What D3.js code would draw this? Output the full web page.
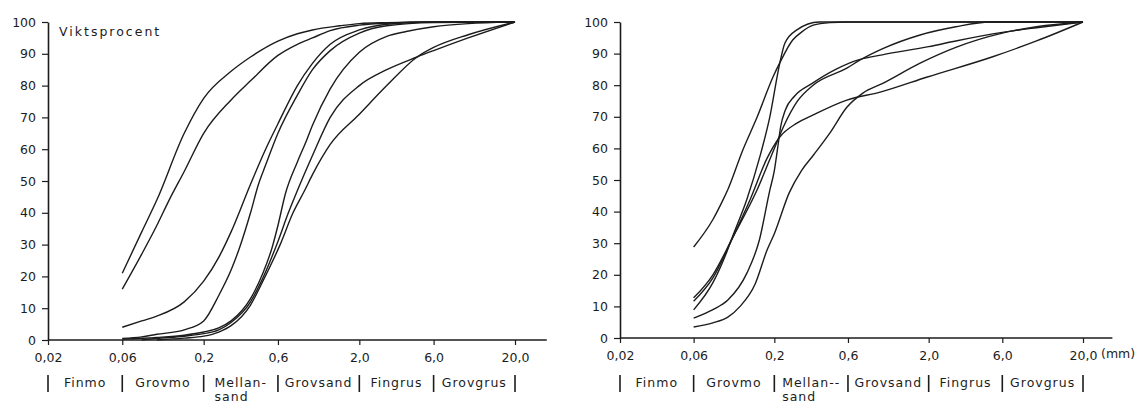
<!DOCTYPE html>
<html><head><meta charset="utf-8">
<script src="https://cdn.jsdelivr.net/npm/d3@7"></script>
<style>
body{margin:0;background:#fff;}
svg text{font-family:"DejaVu Sans",sans-serif;fill:#1c1c1c;}
</style></head><body>
<svg id="chart" width="1140" height="404"></svg>
<script>
// ---- axis / label data ----
const xTickValues = [0.02, 0.06, 0.2, 0.6, 2, 6, 20];
const xTickLabels = ["0,02", "0,06", "0,2", "0,6", "2,0", "6,0", "20,0"];
const yTickValues = [0, 10, 20, 30, 40, 50, 60, 70, 80, 90, 100];
const fractionBounds = [0.02, 0.06, 0.2, 0.6, 2, 6, 20];
const fractionNamesLeft = ["Finmo", "Grovmo", "Mellan-", "Grovsand", "Fingrus", "Grovgrus"];
const fractionNamesRight = ["Finmo", "Grovmo", "Mellan--", "Grovsand", "Fingrus", "Grovgrus"];
const sandSuffix = "sand";
const yTitle = "Viktsprocent";
const unitLabel = "(mm)";

// ---- left panel curves: [grain size mm, weight %] ----
const leftA = [[0.06,21],[0.08,34],[0.1,44],[0.15,65],[0.2,76],[0.3,84.5],[0.4,89],[0.6,94],[0.8,96.3],[1,97.5],[1.5,98.8],[2,99.5],[3,99.8],[6,100],[20,100]];
const leftB = [[0.06,16],[0.08,27],[0.1,36],[0.12,44],[0.15,53],[0.2,65],[0.3,75.5],[0.4,81.5],[0.6,89.5],[0.8,93],[1,95],[1.3,97.3],[2,99],[3,99.6],[6,100],[20,100]];
const leftC = [[0.06,4],[0.08,6],[0.1,7.5],[0.15,12],[0.2,18.5],[0.25,26],[0.3,34],[0.4,49],[0.5,60],[0.6,68],[0.8,80],[1,87],[1.3,93],[2,97.5],[3,99.3],[6,100],[20,100]];
const leftD = [[0.06,0.5],[0.08,1],[0.1,1.8],[0.15,3.2],[0.2,6],[0.25,14],[0.3,22],[0.34,29],[0.4,40],[0.45,49],[0.5,55],[0.6,65],[0.8,77],[1,85],[1.3,91],[2,96.5],[3,98.8],[6,99.8],[20,100]];
const leftE = [[0.06,0.3],[0.1,0.8],[0.15,1.5],[0.2,2.5],[0.25,3.8],[0.3,6],[0.4,13],[0.48,21],[0.55,29],[0.6,36],[0.67,46],[0.8,56],[0.92,63],[1,67.5],[1.3,79],[2,90.5],[3,95.5],[4,97],[6,98.5],[10,99.5],[20,100]];
const leftF = [[0.08,0],[0.1,0.5],[0.15,1.2],[0.2,2],[0.25,3.2],[0.3,5.5],[0.4,12],[0.48,19.5],[0.6,31],[0.7,40],[0.8,47],[1,58],[1.3,70],[2,80],[3,85],[4.7,89],[6,91],[10,95],[20,100]];
const leftG = [[0.1,0],[0.15,0.6],[0.2,1.2],[0.25,2.5],[0.3,4.5],[0.4,11],[0.48,18.5],[0.62,30],[0.75,40],[0.89,47],[1,52],[1.3,61.5],[2,71],[3,80],[4.7,89],[6,92],[10,96],[20,100]];

// ---- right panel curves ----
const rightA = [[0.06,28.8],[0.08,37.5],[0.093,43.7],[0.1,47],[0.125,59.5],[0.155,70],[0.196,82.6],[0.218,87.3],[0.263,94.3],[0.3,96.8],[0.357,99],[0.46,99.8],[0.6,100],[20,100]];
const rightB = [[0.06,8.9],[0.08,17.5],[0.098,27],[0.108,32.5],[0.133,44],[0.161,57.3],[0.187,70],[0.217,87],[0.234,93.3],[0.28,97.5],[0.39,100],[20,100]];
const rightC = [[0.06,6.3],[0.08,9],[0.1,12],[0.133,20.6],[0.16,31],[0.187,46.8],[0.2,53],[0.21,60],[0.22,67],[0.235,72],[0.27,76.5],[0.35,80.5],[0.5,85],[0.7,88],[1,89.6],[2,92.2],[3,94],[6,96.7],[10,98.2],[20,100]];
const rightD = [[0.06,12.7],[0.08,20],[0.108,32],[0.155,47],[0.2,60],[0.23,67],[0.28,74.7],[0.357,80],[0.59,85.4],[0.72,88],[1,91.5],[1.76,95.9],[3,98.5],[5,100],[20,100]];
const rightE = [[0.06,11.6],[0.08,19],[0.108,32],[0.139,43.7],[0.18,57],[0.217,63.6],[0.28,68],[0.357,70.6],[0.59,75.3],[0.97,77.8],[1.96,82.6],[5.2,89],[10,94],[20,100]];
const rightF = [[0.06,3.5],[0.08,4.8],[0.1,6.6],[0.12,10],[0.15,17],[0.18,28],[0.2,33],[0.25,46],[0.3,53],[0.36,58],[0.46,65],[0.59,73],[0.75,77.5],[1,80.5],[1.76,87],[3,92],[6,96.5],[10,98.5],[20,100]];

const leftCurves = [leftA, leftB, leftC, leftD, leftE, leftF, leftG];
const rightCurves = [rightA, rightB, rightC, rightD, rightE, rightF];

const svg = d3.select("#chart");
const ink = "#1c1c1c";

function drawPanel(cfg, curves, names, opts) {
  const g = svg.append("g");
  const x = d3.scaleLog().domain([0.02, 20]).range([cfg.left, cfg.right]);
  const y = d3.scaleLinear().domain([0, 100]).range([cfg.bottom, cfg.top]);

  // curves
  const line = d3.line().x(d => x(d[0])).y(d => y(d[1])).curve(d3.curveMonotoneX);
  g.selectAll("path.curve").data(curves).join("path")
    .attr("class", "curve").attr("d", line)
    .attr("fill", "none").attr("stroke", ink).attr("stroke-width", 1.4);

  // y axis
  const ya = g.append("g").attr("transform", `translate(${cfg.left},0)`)
    .call(d3.axisLeft(y).tickValues(yTickValues).tickSize(6).tickPadding(6).tickSizeOuter(0));
  ya.select(".domain").attr("stroke", ink).attr("stroke-width", 1.6);
  ya.selectAll(".tick line").attr("stroke", ink).attr("stroke-width", 1.2);
  ya.selectAll(".tick text").attr("font-size", 12.5).attr("font-family", "DejaVu Sans").attr("fill", ink);

  // x axis
  const xa = g.append("g").attr("transform", `translate(0,${cfg.bottom})`)
    .call(d3.axisBottom(x).tickValues(xTickValues).tickFormat((d, i) => xTickLabels[i])
      .tickSize(5).tickPadding(8).tickSizeOuter(0));
  xa.select(".domain").remove();
  xa.append("line").attr("x1", x(0.02)).attr("x2", x(cfg.xEnd)).attr("y1", 0).attr("y2", 0)
    .attr("stroke", ink).attr("stroke-width", 1.4);
  xa.selectAll(".tick line").attr("stroke", ink).attr("stroke-width", 1.2);
  xa.selectAll(".tick text").attr("font-size", 12.5).attr("font-family", "DejaVu Sans").attr("fill", ink);

  // fraction labels
  const barTop = 375, barBottom = 392, labelY = 387;
  g.selectAll("line.bar").data(fractionBounds).join("line").attr("class", "bar")
    .attr("x1", d => x(d)).attr("x2", d => x(d)).attr("y1", barTop).attr("y2", barBottom)
    .attr("stroke", ink).attr("stroke-width", 1.6);
  names.forEach((nm, i) => {
    const cx = (x(fractionBounds[i]) + x(fractionBounds[i + 1])) / 2;
    const t = g.append("text").attr("x", cx).attr("y", labelY).attr("text-anchor", "middle")
      .attr("font-size", 12.5).attr("letter-spacing", "1px").text(nm);
    if (nm.startsWith("Mellan")) {
      const bb = t.node().getBBox();
      g.append("text").attr("x", bb.x).attr("y", labelY + 14).attr("font-size", 12.5)
        .attr("letter-spacing", "1px").text(sandSuffix);
    }
  });

  if (opts.title) {
    g.append("text").attr("x", cfg.left + 11).attr("y", 36).attr("font-size", 12.5)
      .attr("letter-spacing", "2px").text(yTitle);
  }
  if (opts.unit) {
    g.append("text").attr("x", x(20) + 18).attr("y", cfg.bottom + 8 + 12).attr("font-size", 12.5)
      .text(unitLabel);
  }
}

drawPanel({left: 48, right: 515, top: 22, bottom: 340, xEnd: 32}, leftCurves, fractionNamesLeft, {title: true});
drawPanel({left: 620, right: 1083, top: 22, bottom: 338, xEnd: 31}, rightCurves, fractionNamesRight, {unit: true});
</script>
</body></html>
